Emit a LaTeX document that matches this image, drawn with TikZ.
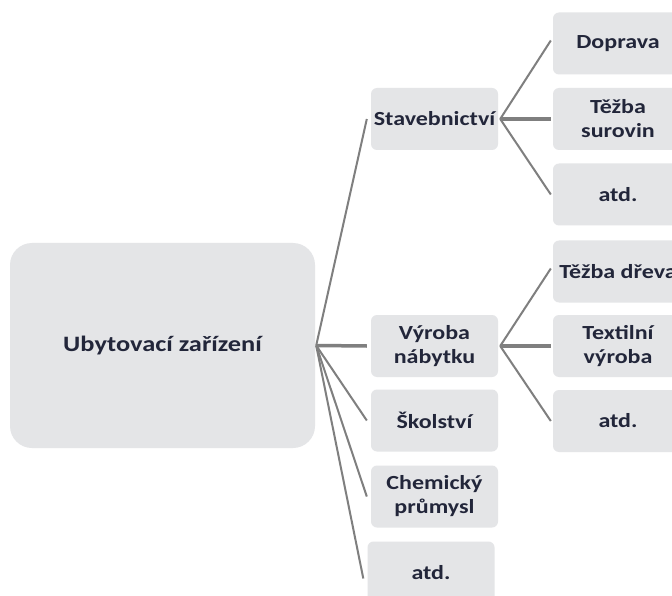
\documentclass[tikz,border=0pt]{standalone}
\usepackage{fontspec}
\setmainfont[FakeStretch=1.2]{Carlito}
\definecolor{boxfill}{HTML}{E4E5E7}
\definecolor{txt}{HTML}{22263A}
\definecolor{conn}{HTML}{7F7F7F}
\begin{document}
\begin{tikzpicture}[x=1pt,y=-1pt,
  box/.style={fill=boxfill, rounded corners=6pt, inner sep=0pt, align=center,
    font=\fontsize{20}{24}\selectfont\bfseries, text=txt},
  lvltwo/.style={box, minimum width=127pt, minimum height=62pt},
  lvlthree/.style={box, minimum width=130pt, minimum height=62pt},
  rootbox/.style={box, rounded corners=22pt, minimum width=305pt, minimum height=205pt,
    font=\fontsize{22}{26}\selectfont\bfseries},
  link/.style={draw=conn, line width=2pt},
  flat/.style={draw=conn, line width=3.5pt}]
\useasboundingbox (0,0) rectangle (672,596);
\clip (0,0) rectangle (672,596);
\fill[white] (0,0) rectangle (672,596);

\node[rootbox] (root) at (162.5,345.5) {Ubytovací zařízení};

\node[lvltwo] (stav) at (434.5,119) {Stavebnictví};
\node[lvltwo] (vyr) at (434.5,346) {Výroba\\nábytku};
\node[lvltwo] (skol) at (434.5,420.5) {Školství};
\node[lvltwo] (chem) at (434.5,496.5) {Chemický\\průmysl};
\node[lvltwo] (atdA) at (431,572.5) {atd.};

\node[lvlthree] (dop) at (618,43.5) {Doprava};
\node[lvlthree] (tez) at (618,119) {Těžba\\surovin};
\node[lvlthree] (atdB) at (618,194.5) {atd.};
\node[lvlthree] (drev) at (618,271.5) {Těžba dřeva};
\node[lvlthree] (text) at (618,346) {Textilní\\výroba};
\node[lvlthree] (atdC) at (618,421) {atd.};

\coordinate (rj) at ([xshift=1pt]root.east);
\path[link] (rj) -- ([xshift=-4pt]stav.west);
\path[flat] (rj) -- ([xshift=-4pt]vyr.west);
\path[link] (rj) -- ([xshift=-4pt]skol.west);
\path[link] (rj) -- ([xshift=-4pt]chem.west);
\path[link] (rj) -- ([xshift=-4pt,yshift=-6pt]atdA.west);

\coordinate (sj) at ([xshift=2pt]stav.east);
\path[link] (sj) -- ([xshift=-2pt,yshift=3pt]dop.west);
\path[flat] (sj) -- ([xshift=-2pt]tez.west);
\path[link] (sj) -- ([xshift=-2pt]atdB.west);

\coordinate (vj) at ([xshift=2pt]vyr.east);
\path[link] (vj) -- ([xshift=-2pt,yshift=3pt]drev.west);
\path[flat] (vj) -- ([xshift=-2pt]text.west);
\path[link] (vj) -- ([xshift=-2pt]atdC.west);
\end{tikzpicture}
\end{document}
